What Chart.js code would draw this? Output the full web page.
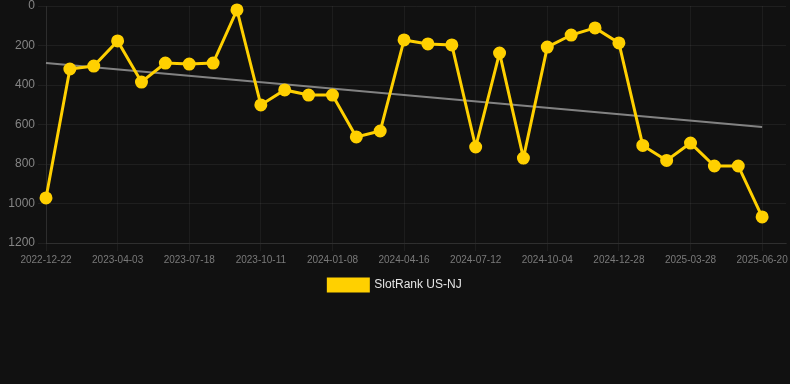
<!DOCTYPE html>
<html>
<head>
<meta charset="utf-8">
<script src="https://cdn.jsdelivr.net/npm/chart.js@4"></script>
<style>
  html, body { margin: 0; padding: 0; background: #111111; }
  #wrap { width: 790px; height: 301px; position: relative; }
</style>
</head>
<body>
<div id="wrap"><canvas id="myChart"></canvas></div>
<script>
// dates on the x axis (last one has no value yet)
const dates = [
  '2022-12-22', '2023-01-25', '2023-02-28', '2023-04-03', '2023-05-08', '2023-06-12',
  '2023-07-18', '2023-08-15', '2023-09-13', '2023-10-11', '2023-11-09', '2023-12-08',
  '2024-01-08', '2024-02-12', '2024-03-14', '2024-04-16', '2024-05-15', '2024-06-13',
  '2024-07-12', '2024-08-09', '2024-09-06', '2024-10-04', '2024-11-01', '2024-11-29',
  '2024-12-28', '2025-01-27', '2025-02-26', '2025-03-28', '2025-04-25', '2025-05-23',
  '2025-06-20', '2025-07-18'
];

// rank values
const ranks = [
  972, 319, 304, 177, 385, 289, 294, 289, 20, 501,
  425, 451, 451, 663, 633, 172, 192, 197, 714, 238,
  770, 208, 147, 111, 187, 706, 782, 694, 810, 810,
  1068, null
];

// trend line end points
const trendStart = 289;
const trendEnd = 613;

const yellow = '#FFD000';
const fontFamily = 'Liberation Sans, Arial, sans-serif';

const ctx = document.getElementById('myChart').getContext('2d');
new Chart(ctx, {
  type: 'line',
  data: {
    labels: dates,
    datasets: [
      {
        label: 'SlotRank US-NJ',
        data: ranks,
        borderColor: yellow,
        backgroundColor: yellow,
        borderWidth: 3,
        pointRadius: 5,
        pointHoverRadius: 6,
        pointBackgroundColor: yellow,
        pointBorderColor: yellow,
        tension: 0,
        clip: false
      },
      {
        label: 'trend',
        data: [{ x: dates[0], y: trendStart }, { x: dates[30], y: trendEnd }],
        borderColor: 'rgba(150,150,150,0.85)',
        borderWidth: 2,
        pointRadius: 0,
        fill: false
      }
    ]
  },
  options: {
    responsive: true,
    maintainAspectRatio: false,
    animation: false,
    layout: { padding: 0, autoPadding: false },
    plugins: {
      legend: {
        position: 'bottom',
        labels: {
          color: '#e6e6e6',
          boxWidth: 40,
          boxHeight: 12,
          font: { family: fontFamily, size: 12 },
          filter: (item) => item.text !== 'trend'
        }
      },
      tooltip: { enabled: false }
    },
    scales: {
      x: {
        grid: { color: 'rgba(255,255,255,0.05)' },
        border: { color: 'rgba(255,255,255,0.08)' },
        afterFit: (s) => { s.paddingLeft = 0; s.paddingRight = 4; },
        ticks: {
          color: '#7a7a7a',
          maxRotation: 0,
          autoSkip: true,
          maxTicksLimit: 11,
          font: { family: fontFamily, size: 10 }
        }
      },
      y: {
        reverse: true,
        min: 0,
        max: 1200,
        grid: { color: 'rgba(255,255,255,0.06)' },
        border: { color: 'rgba(255,255,255,0.08)' },
        afterFit: (s) => { s.width = 46; s.paddingTop = 6; },
        ticks: {
          color: '#858585',
          stepSize: 200,
          callback: (v) => String(v),
          font: { family: fontFamily, size: 12 }
        }
      }
    }
  }
});
</script>
</body>
</html>
